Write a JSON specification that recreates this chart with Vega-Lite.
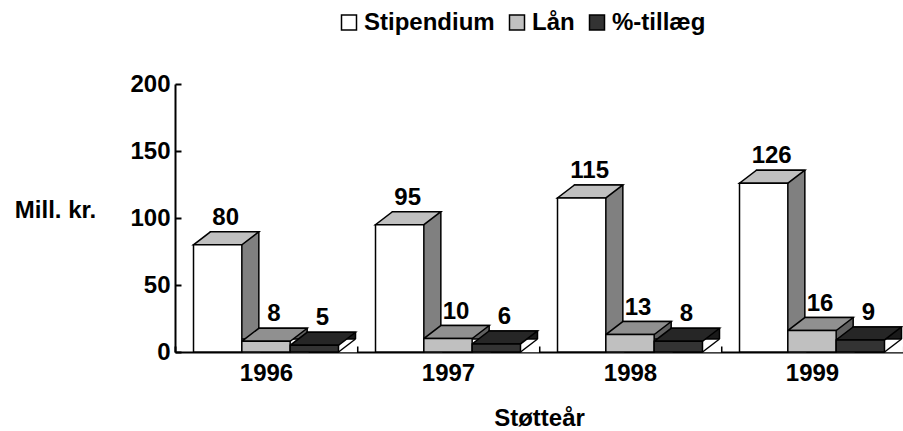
{
  "$schema": "https://vega.github.io/schema/vega-lite/v6.json",
  "width": 728,
  "height": 268,
  "autosize": {"type": "none"},
  "padding": {"left": 175, "top": 84, "right": 0, "bottom": 79},
  "background": "white",
  "config": {
    "view": {"stroke": null},
    "font": "Liberation Sans",
    "axis": {
      "domainColor": "black", "domainWidth": 2, "tickColor": "black", "tickWidth": 2,
      "labelColor": "black", "labelFontSize": 24, "labelFontWeight": "bold", "labelFont": "Liberation Sans",
      "titleColor": "black", "titleFontSize": 24, "titleFontWeight": "bold", "titleFont": "Liberation Sans",
      "grid": false, "zindex": 1
    }
  },
  "data": {
    "values": [
      {"year": "1996", "series": "Stipendium", "value": 80},
      {"year": "1996", "series": "Lån", "value": 8},
      {"year": "1996", "series": "%-tillæg", "value": 5},
      {"year": "1997", "series": "Stipendium", "value": 95},
      {"year": "1997", "series": "Lån", "value": 10},
      {"year": "1997", "series": "%-tillæg", "value": 6},
      {"year": "1998", "series": "Stipendium", "value": 115},
      {"year": "1998", "series": "Lån", "value": 13},
      {"year": "1998", "series": "%-tillæg", "value": 8},
      {"year": "1999", "series": "Stipendium", "value": 126},
      {"year": "1999", "series": "Lån", "value": 16},
      {"year": "1999", "series": "%-tillæg", "value": 9}
    ]
  },
  "encoding": {
    "x": {
      "field": "year", "type": "nominal",
      "scale": {"type": "band", "paddingInner": 0, "paddingOuter": 0},
      "axis": {
        "labelAngle": 0, "tickBand": "extent", "tickSize": -6, "labelPadding": 15,
        "title": "Støtteår", "titleY": 73, "titleBaseline": "alphabetic"
      }
    },
    "xOffset": {
      "field": "series", "type": "nominal",
      "scale": {"type": "band", "domain": ["Stipendium", "Lån", "%-tillæg"], "paddingInner": 0, "paddingOuter": 0.383}
    },
    "y": {
      "field": "value", "type": "quantitative",
      "scale": {"domain": [0, 200], "nice": false},
      "axis": {
        "values": [0, 50, 100, 150, 200], "tickSize": -6, "labelPadding": 11,
        "title": "Mill. kr.", "titleAngle": 0, "titleX": -120, "titleY": 133,
        "titleAlign": "center", "titleBaseline": "alphabetic"
      }
    }
  },
  "layer": [
    {
      "mark": {"type": "bar", "yOffset": -13, "opacity": 1, "stroke": "black", "strokeWidth": 1.5},
      "encoding": {
        "xOffset": {
          "field": "series", "type": "nominal",
          "scale": {"type": "band", "domain": ["Stipendium", "Lån", "%-tillæg"], "paddingInner": 0, "paddingOuter": 0.383, "align": 0.9595}
        },
        "color": {"field": "series", "type": "nominal", "legend": null,
          "scale": {"domain": ["Stipendium", "Lån", "%-tillæg"], "range": ["#808080", "#606060", "#1a1a1a"]}}
      }
    },
    {
      "mark": {"type": "point", "shape": "M24.2,0.2L42.6,0.2L42.6,-13L41.2,-13Z", "size": 4, "filled": true, "opacity": 1, "strokeWidth": 0, "color": "white"},
      "encoding": {
        "y": {
          "datum": 0, "type": "quantitative",
          "scale": {"domain": [0, 200], "nice": false},
          "axis": {
            "values": [0, 50, 100, 150, 200], "tickSize": -6, "labelPadding": 11,
            "title": "Mill. kr.", "titleAngle": 0, "titleX": -120, "titleY": 133,
            "titleAlign": "center", "titleBaseline": "alphabetic"
          }
        }
      }
    },
    {
      "mark": {"type": "point", "shape": "M24.2,0L41.2,-13", "size": 4, "filled": false, "opacity": 1, "stroke": "black", "strokeWidth": 1.5},
      "encoding": {
        "y": {
          "datum": 0, "type": "quantitative",
          "scale": {"domain": [0, 200], "nice": false},
          "axis": {
            "values": [0, 50, 100, 150, 200], "tickSize": -6, "labelPadding": 11,
            "title": "Mill. kr.", "titleAngle": 0, "titleX": -120, "titleY": 133,
            "titleAlign": "center", "titleBaseline": "alphabetic"
          }
        }
      }
    },
    {
      "mark": {"type": "point", "shape": "M-24.2,0L24.2,0L41.2,-13L-7.2,-13Z", "size": 4, "filled": true, "opacity": 1, "stroke": "black", "strokeWidth": 1.5},
      "encoding": {
        "color": {"field": "series", "type": "nominal", "legend": null,
          "scale": {"domain": ["Stipendium", "Lån", "%-tillæg"], "range": ["#c0c0c0", "#909090", "#262626"]}}
      }
    },
    {
      "mark": {"type": "bar", "stroke": "black", "strokeWidth": 1.5, "opacity": 1},
      "encoding": {
        "color": {"field": "series", "type": "nominal",
          "scale": {"domain": ["Stipendium", "Lån", "%-tillæg"], "range": ["#ffffff", "#c0c0c0", "#333333"]},
          "legend": {
            "orient": "none", "legendX": 162, "legendY": -73.5, "direction": "horizontal", "title": null,
            "symbolType": "square", "symbolSize": 225, "symbolStrokeColor": "black", "symbolStrokeWidth": 1.5,
            "symbolOpacity": 1, "labelFontSize": 24, "labelFontWeight": "bold", "labelColor": "black",
            "labelFont": "Liberation Sans", "labelOffset": 3, "columnPadding": 10, "padding": 0
          }
        }
      }
    },
    {
      "mark": {"type": "text", "dx": 8, "dy": -20, "baseline": "alphabetic", "fontSize": 24, "fontWeight": "bold", "color": "black", "font": "Liberation Sans"},
      "encoding": {"text": {"field": "value", "type": "quantitative"}}
    }
  ],
  "resolve": {"scale": {"color": "independent", "xOffset": "independent"}}
}
